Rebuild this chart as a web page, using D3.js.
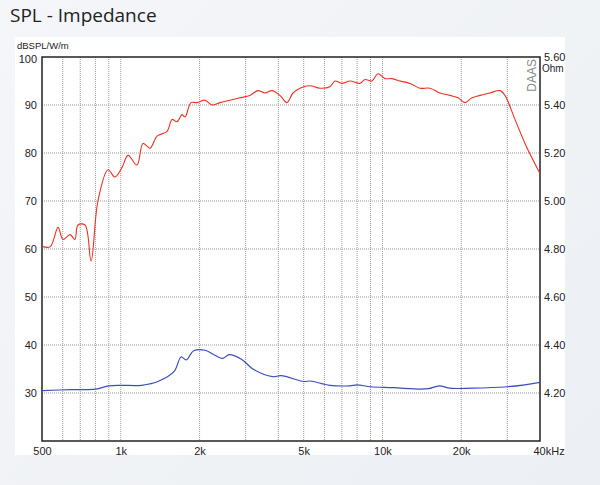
<!DOCTYPE html><html><head><meta charset="utf-8">
<script src="https://cdn.jsdelivr.net/npm/d3@7"></script>
<style>body{margin:0;background:linear-gradient(135deg,#f4f6f9,#eceff3);}svg{display:block}</style></head><body>
<script>
const splFreq=[502,538,576,601,640,668,686,730,770,818,894,950,1011,1066,1153,1216,1294,1376,1502,1570,1640,1714,1760,1855,1955,2098,2231,2393,2613,2854,3118,3341,3556,3783,4055,4314,4550,4841,5284,5769,6297,6585,6999,7515,8203,8574,9117,9611,10230,10870,11670,12740,13910,15190,16580,18100,19450,20660,21980,23590,25750,28120,29390,32090,35050,37250,40000];
const splDb=[60.5,60.5,64.5,62,63,62,65,65,57.5,70,76.5,75,77,79.5,77.5,82,81,83.5,84.5,87,86.5,88,87.5,90.5,90.5,91,90,90.5,91,91.5,92,93,92.5,93,92,90.5,92.5,93.5,94,93.5,93.8,95,94.5,95,94.5,95.3,95,96.5,95.5,95.5,95,94.5,93.5,93.5,92.5,92,91.5,90.5,91.5,92,92.5,93,92,87,82,79,75.7];
const impFreq=[500,650,800,900,1000,1200,1400,1600,1700,1780,1900,2100,2300,2450,2600,2900,3200,3800,4100,5000,5300,6300,7500,8000,9000,11000,14000,15000,16500,18000,22000,30000,35000,40000];
const impOhm=[4.21,4.214,4.216,4.23,4.232,4.232,4.25,4.29,4.35,4.338,4.376,4.378,4.356,4.344,4.36,4.34,4.30,4.268,4.272,4.248,4.25,4.232,4.23,4.234,4.226,4.222,4.216,4.218,4.23,4.22,4.22,4.226,4.234,4.244];
const gridFreq=[600,700,800,900,1000,2000,3000,4000,5000,6000,7000,8000,9000,10000,20000,30000];
const xTicks=[500,1000,2000,5000,10000,20000,40000];
const xTickLabels=["500","1k","2k","5k","10k","20k","40kHz"];
const dbTicks=[30,40,50,60,70,80,90,100];
const ohmTicks=[4.2,4.4,4.6,4.8,5.0,5.2,5.4,5.6];

const W=600,H=485,L=42,R=540,T=57,B=441;
const svg=d3.select("body").append("svg").attr("width",W).attr("height",H);
svg.append("text").attr("x",10).attr("y",22).attr("font-family","Open Sans, sans-serif").attr("font-size",19).attr("fill","#222").text("SPL - Impedance");
svg.append("rect").attr("x",15).attr("y",37).attr("width",550).attr("height",418).attr("fill","#fff");
const x=d3.scaleLog().domain([500,40000]).range([L,R]);
const y=d3.scaleLinear().domain([20,100]).range([B,T]);
const y2=d3.scaleLinear().domain([4.0,5.6]).range([B,T]);
const g=svg.append("g");
g.selectAll(".vg").data(gridFreq).join("line").attr("x1",d=>x(d)).attr("x2",d=>x(d)).attr("y1",T).attr("y2",B).attr("stroke","#999").attr("stroke-width",1).attr("stroke-dasharray","1,1");
g.selectAll(".hg").data(dbTicks.slice(0,-1)).join("line").attr("x1",L).attr("x2",R).attr("y1",d=>y(d)).attr("y2",d=>y(d)).attr("stroke","#999").attr("stroke-dasharray","1,1");
svg.append("rect").attr("x",L).attr("y",T).attr("width",R-L).attr("height",B-T).attr("fill","none").attr("stroke","#222").attr("stroke-width",1.5);
const f="Liberation Sans, Arial, sans-serif";
svg.append("g").attr("transform",`translate(${L},0)`).call(d3.axisLeft(y).tickValues(dbTicks).tickSize(0).tickPadding(5)).call(a=>a.select(".domain").remove()).selectAll("text").attr("font-family",f).attr("font-size",11).attr("fill","#222").attr("dy",(d)=>d==100?"0.5em":"0.32em");
svg.append("g").attr("transform",`translate(${R},0)`).call(d3.axisRight(y2).tickValues(ohmTicks).tickFormat(d3.format(".2f")).tickSize(0).tickPadding(4)).call(a=>a.select(".domain").remove()).selectAll("text").attr("font-family",f).attr("font-size",11).attr("fill","#222");
const xa=svg.append("g").attr("transform",`translate(0,${B})`).call(d3.axisBottom(x).tickValues(xTicks).tickFormat((d,i)=>xTickLabels[i]).tickSize(0).tickPadding(6));
xa.select(".domain").remove();
xa.selectAll("text").attr("font-family",f).attr("font-size",11).attr("fill","#222").attr("text-anchor",(d,i)=>i==xTicks.length-1?"start":"middle").attr("dx",(d,i)=>i==xTicks.length-1?-7:0);
svg.append("text").attr("x",17).attr("y",49).attr("font-family",f).attr("font-size",9.5).attr("fill","#222").text("dBSPL/W/m");
svg.append("text").attr("x",542).attr("y",72).attr("font-family",f).attr("font-size",10).attr("fill","#222").text("Ohm");
svg.append("text").attr("transform","translate(536,59) rotate(-90)").attr("text-anchor","end").attr("font-family",f).attr("font-size",12).attr("fill","#888").text("DAAS");
const clip=svg.append("clipPath").attr("id","c").append("rect").attr("x",L).attr("y",T).attr("width",R-L).attr("height",B-T);
svg.append("path").datum(impFreq.map((d,i)=>[d,impOhm[i]])).attr("clip-path","url(#c)").attr("fill","none").attr("stroke","#3b4dbf").attr("stroke-width",1.2).attr("d",d3.line().x(d=>x(d[0])).y(d=>y2(d[1])).curve(d3.curveCatmullRom));
svg.append("path").datum(splFreq.map((d,i)=>[d,splDb[i]])).attr("clip-path","url(#c)").attr("fill","none").attr("stroke","#f03020").attr("stroke-width",1.1).attr("d",d3.line().x(d=>x(d[0])).y(d=>y(d[1])).curve(d3.curveCatmullRom));
</script></body></html>
